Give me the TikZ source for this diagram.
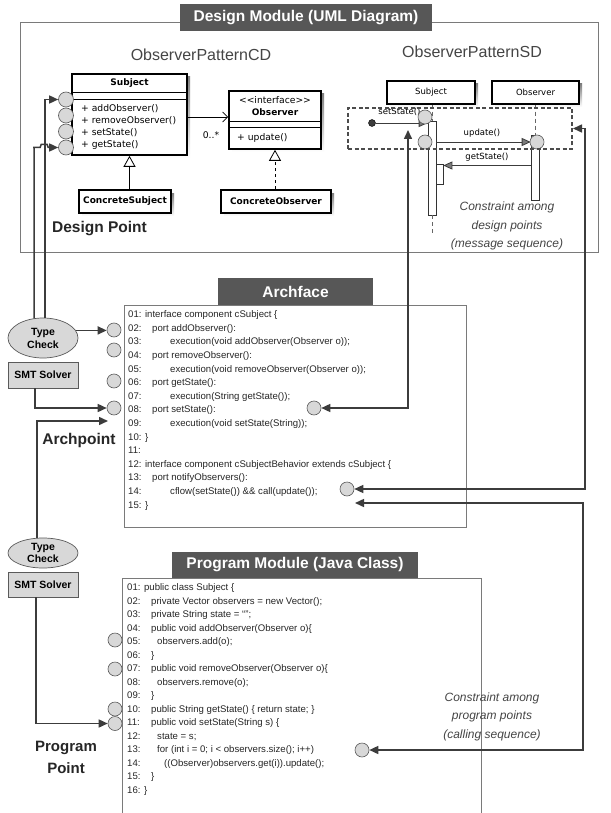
\documentclass[tikz,border=0pt]{standalone}
\usepackage{fontspec}
\setmainfont{Liberation Sans}
\newfontfamily\umlfont{DejaVu Sans}
\usetikzlibrary{arrows.meta,shapes.geometric,calc}

\definecolor{barfill}{HTML}{575757}
\definecolor{wire}{HTML}{3C3C3C}
\definecolor{framegray}{HTML}{7A7A7A}
\definecolor{portfill}{HTML}{D8D8D8}
\definecolor{portedge}{HTML}{5A5A5A}
\definecolor{shade}{HTML}{DDDDDD}
\definecolor{notegray}{HTML}{454545}
\definecolor{msgtip}{HTML}{7C7C7C}
\definecolor{codeink}{HTML}{262626}

\tikzset{
  wtip/.tip={Triangle[length=9pt,width=8pt]},
  mtip/.tip={Triangle[length=9pt,width=8pt,fill=msgtip]},
  titlebar/.style={fill=barfill,text=white,inner sep=0pt,minimum height=27pt,
    font=\bfseries\fontsize{15.5}{17}\selectfont},
  moduleframe/.style={draw=framegray,line width=0.9pt},
  port/.style={circle,draw=portedge,fill=portfill,line width=0.6pt,minimum size=14pt,inner sep=0pt},
  conn/.style={draw=wire,line width=1.5pt},
  code/.style={inner sep=0pt,anchor=mid west,text=codeink,font=\fontsize{9.6}{11}\selectfont},
  diagtitle/.style={inner sep=0pt,text=notegray,font=\fontsize{16}{18}\selectfont},
  umlbox/.style={draw=black,line width=1.6pt,fill=white,inner sep=0pt},
  umltext/.style={inner sep=0pt,font=\umlfont\fontsize{9.2}{10}\selectfont},
  umlbold/.style={inner sep=0pt,font=\umlfont\bfseries\fontsize{9}{10}\selectfont},
  cbox/.style={umlbox,minimum height=23pt,font=\umlfont\bfseries\fontsize{9}{10}\selectfont},
  lifebox/.style={umlbox,line width=1.4pt,minimum height=23pt,font=\umlfont\fontsize{8.5}{10}\selectfont},
  msglabel/.style={inner sep=0pt,font=\umlfont\fontsize{8.5}{10}\selectfont},
  bigbold/.style={inner sep=0pt,text=black!85,align=center,font=\bfseries\fontsize{15.5}{23}\selectfont},
  note/.style={inner sep=0pt,text=notegray,align=center,font=\itshape\fontsize{12}{18.5}\selectfont},
  checker/.style={ellipse,draw=portedge,fill=portfill,line width=0.7pt,inner sep=0pt,
    minimum width=70pt,align=center,font=\bfseries\fontsize{10.5}{13}\selectfont},
  solver/.style={draw=portedge,fill=portfill,line width=0.7pt,inner sep=0pt,
    minimum width=70pt,font=\bfseries\fontsize{10.5}{12}\selectfont},
  msg/.style={draw=wire,line width=0.8pt},
  actbar/.style={draw=black!80,fill=white,line width=0.6pt,inner sep=0pt},
  lifeline/.style={draw=black!60,line width=0.6pt,dash pattern=on 4pt off 3pt},
}

\begin{document}
\begin{tikzpicture}[x=1pt,y=-1pt]
\useasboundingbox (0,0) rectangle (610,813);
\fill[white] (0,0) rectangle (610,813);

% ================= Design module =================
\draw[moduleframe] (20,22) rectangle (598,252);
\node[titlebar,minimum width=252pt] (dmtitle) at (306,17.5) {Design Module (UML Diagram)};

% ---- class diagram ----
\node[diagtitle] (cdtitle) at (201,55) {ObserverPatternCD};

\fill[shade] (75,77) rectangle (190,158);
\node[umlbox,minimum width=115pt,minimum height=81pt] (subj) at (129.5,114.5) {};
\draw[line width=0.7pt] (72,92) -- (187,92) (72,99) -- (187,99);
\node[umlbold] (subjname) at (129.5,83.5) {Subject};
\node[umltext,anchor=mid west] (subjm1) at (81,109) {+ addObserver()};
\node[umltext,anchor=mid west] (subjm2) at (81,121) {+ removeObserver()};
\node[umltext,anchor=mid west] (subjm3) at (81,133) {+ setState()};
\node[umltext,anchor=mid west] (subjm4) at (81,145) {+ getState()};

\fill[shade] (232,94) rectangle (324,152);
\node[umlbox,minimum width=92pt,minimum height=58pt] (iobs) at (275,120) {};
\draw[line width=0.7pt] (229,121) -- (321,121) (229,127) -- (321,127);
\node[umltext] (iobsst) at (275,100) {<{}<interface>{}>};
\node[umlbold] (iobsname) at (275,112) {Observer};
\node[umltext,anchor=mid west] (iobsm1) at (237,137.5) {+ update()};

\fill[shade] (82,193) rectangle (174,216);
\node[cbox,minimum width=92pt] (csub) at (125,201.5) {ConcreteSubject};
\fill[shade] (224,193) rectangle (334,216);
\node[cbox,minimum width=110pt] (cobs) at (276,201.5) {ConcreteObserver};

\draw[line width=0.8pt,-{Triangle[open,length=11pt,width=12pt,fill=white]}]
  (csub.north -| subj.south) -- (subj.south);
\draw[line width=0.8pt,dashed,-{Triangle[open,length=11pt,width=12pt,fill=white]}]
  (cobs.north -| iobs.south) -- (iobs.south);
\coordinate (assocrow) at (0,117);
\draw[line width=0.8pt,-{Straight Barb[length=5pt,width=10pt]}]
  (subj.east |- assocrow) -- (iobs.west |- assocrow);
\node[umltext] (mult) at (211,135) {0..*};

\foreach \i/\y in {1/99.5,2/115.5,3/131.5,4/147.5}
  \node[port,minimum size=15pt] (dp\i) at (66,\y) {};

\node[bigbold] (dpoint) at (99.5,229) {Design Point};

% ---- sequence diagram ----
\node[diagtitle] (sdtitle) at (472,52) {ObserverPatternSD};

\fill[shade] (390,84) rectangle (478,107);
\node[lifebox,minimum width=88pt] (sdsubj) at (431,92.5) {Subject};
\fill[shade] (495,84) rectangle (582,107);
\node[lifebox,minimum width=87pt] (sdobs) at (535.5,92.5) {Observer};

\node[actbar,minimum width=8pt,minimum height=94pt] (actS) at (432,168) {};
\node[actbar,minimum width=7pt,minimum height=20pt] (actN) at (439.5,174) {};
\node[actbar,minimum width=8pt,minimum height=65pt] (actO) at (535,167.5) {};
\draw[lifeline] (sdsubj.south -| actS.north) -- (actS.north);
\draw[lifeline] (actS.south) -- ++(0,18);
\draw[lifeline] (sdobs.south -| actO.north) -- (actO.north);

\node[circle,fill=wire,draw=black,minimum size=7pt,inner sep=0pt] (fdot) at (372,123) {};
\node[msglabel] (setlbl) at (399.5,112) {setState()};
\draw[msg,-mtip] (fdot) -- (fdot -| actS.west);
\coordinate (updrow) at (0,142);
\draw[msg,-mtip] (actS.east |- updrow) -- (actO.west |- updrow);
\node[msglabel] (updlbl) at (482,133) {update()};
\coordinate (getrow) at (0,165.5);
\draw[msg,-mtip] (actO.west |- getrow) -- (actN.east |- getrow);
\node[msglabel] (getlbl) at (487,157) {getState()};

\node[port] (sc1) at (425,117) {};
\node[port] (sc2) at (425,142) {};
\node[port] (oc1) at (537,142) {};

\node[draw=black!70,line width=2pt,dash pattern=on 4pt off 2.5pt,minimum width=224pt,
  minimum height=41pt,inner sep=0pt] (sdbox) at (460,128.5) {};

\node[note] (dnote) at (507,226) {Constraint among\\design points\\(message sequence)};

% ================= Archface =================
\draw[moduleframe] (124,305) rectangle (466,527);
\node[titlebar,minimum width=155pt] (aftitle) at (295.5,291.5) {Archface};

\node[code] (a01) at (128,315) {01: interface component cSubject \{};
\node[code] (a02n) at (128,328.6) {02:};  \node[code] (a02) at (152,328.6) {port addObserver():};
\node[code] (a03n) at (128,342.2) {03:};  \node[code] (a03) at (170,342.2) {execution(void addObserver(Observer o));};
\node[code] (a04n) at (128,355.8) {04:};  \node[code] (a04) at (152,355.8) {port removeObserver():};
\node[code] (a05n) at (128,369.4) {05:};  \node[code] (a05) at (170,369.4) {execution(void removeObserver(Observer o));};
\node[code] (a06n) at (128,383) {06:};    \node[code] (a06) at (152,383) {port getState():};
\node[code] (a07n) at (128,396.6) {07:};  \node[code] (a07) at (170,396.6) {execution(String getState());};
\node[code] (a08n) at (128,410.2) {08:};  \node[code] (a08) at (152,410.2) {port setState():};
\node[code] (a09n) at (128,423.8) {09:};  \node[code] (a09) at (170,423.8) {execution(void setState(String));};
\node[code] (a10) at (128,437.4) {10: \}};
\node[code] (a11) at (128,451) {11:};
\node[code] (a12) at (128,464.6) {12: interface component cSubjectBehavior extends cSubject \{};
\node[code] (a13n) at (128,478.2) {13:};  \node[code] (a13) at (152,478.2) {port notifyObservers():};
\node[code] (a14n) at (128,491.8) {14:};  \node[code] (a14) at (170,491.8) {cflow(setState()) \&\& call(update());};
\node[code] (a15) at (128,505.4) {15: \}};

\foreach \i/\y in {1/330,2/350,3/381,4/408}
  \node[port] (ac\i) at (114,\y) {};
\node[port] (ap1) at (314,408) {};
\node[port] (ap2) at (347,489) {};

% ================= Program module =================
\draw[moduleframe] (122,813) -- (122,578) -- (481,578) -- (481,813);
\node[titlebar,minimum width=246pt,minimum height=26pt] (pmtitle) at (295,565) {Program Module (Java Class)};

\node[code] (p01) at (127,588) {01: public class Subject \{};
\node[code] (p02n) at (127,601.5) {02:}; \node[code] (p02) at (151,601.5) {private Vector observers = new Vector();};
\node[code] (p03n) at (127,615) {03:};   \node[code] (p03) at (151,615) {private String state = \textquotedblleft\textquotedblright;};
\node[code] (p04n) at (127,628.5) {04:}; \node[code] (p04) at (151,628.5) {public void addObserver(Observer o)\{};
\node[code] (p05n) at (127,642) {05:};   \node[code] (p05) at (157,642) {observers.add(o);};
\node[code] (p06n) at (127,655.5) {06:}; \node[code] (p06) at (151,655.5) {\}};
\node[code] (p07n) at (127,669) {07:};   \node[code] (p07) at (151,669) {public void removeObserver(Observer o)\{};
\node[code] (p08n) at (127,682.5) {08:}; \node[code] (p08) at (157,682.5) {observers.remove(o);};
\node[code] (p09n) at (127,696) {09:};   \node[code] (p09) at (151,696) {\}};
\node[code] (p10n) at (127,709.5) {10:}; \node[code] (p10) at (151,709.5) {public String getState() \{ return state; \}};
\node[code] (p11n) at (127,723) {11:};   \node[code] (p11) at (151,723) {public void setState(String s) \{};
\node[code] (p12n) at (127,736.5) {12:}; \node[code] (p12) at (157,736.5) {state = s;};
\node[code] (p13n) at (127,750) {13:};   \node[code] (p13) at (157,750) {for (int i = 0; i < observers.size(); i++)};
\node[code] (p14n) at (127,763.5) {14:}; \node[code] (p14) at (164,763.5) {((Observer)observers.get(i)).update();};
\node[code] (p15n) at (127,777) {15:};   \node[code] (p15) at (151,777) {\}};
\node[code] (p16) at (127,790.5) {16: \}};

\foreach \i/\y in {1/640,2/669,3/709,4/723.5}
  \node[port] (pc\i) at (115,\y) {};
\node[port] (pc5) at (362,750) {};

\node[note] (pnote) at (492,716.5) {Constraint among\\program points\\(calling sequence)};

% ================= checking tools =================
\node[checker,minimum height=40pt] (tc1) at (43,338) {Type\\Check};
\node[solver,minimum height=26pt] (smt1) at (43,375) {SMT Solver};
\node[checker,minimum height=30pt,font=\bfseries\fontsize{10.5}{12}\selectfont] (tc2) at (43,553) {Type\\Check};
\node[solver,minimum height=25pt] (smt2) at (43,584.5) {SMT Solver};

\node[bigbold] (apoint) at (79,440) {Archpoint};
\node[bigbold,font=\bfseries\fontsize{15}{22}\selectfont] (ppoint) at (66,757.5) {Program\\Point};

% ================= connectors =================
\draw[conn,-wtip] ($(tc1.north)+(2,0)$) |- (dp1.west);
\draw[conn,-wtip] ($(tc1.north)+(-8.8,0.7)$) |- ($(dp4.west)+(-25,0)$)
  -- ++(7,0) -- ++(1,-3) -- ++(6,0) -- ++(1,3) -- (dp4.west);
\draw[conn,-wtip] (tc1.13) -- (tc1.13 -| ac1.west);
\draw[conn,-wtip] ($(smt1.south)+(-8,0)$) |- (ac4.west);
\coordinate (archtip) at (108,421);
\draw[conn,-wtip] ($(tc2.north)+(-6,0.3)$) |- (archtip);
\draw[conn,-wtip] ($(smt2.south)+(-7,0)$) |- (pc4.west);

\draw[conn,wtip-wtip] (sdbox.east) -- ++(12,0) |- (ap2.east);
\coordinate (sdup) at (408,130);
\draw[conn,wtip-wtip] (sdup) |- (ap1.east);
\coordinate (ap3tip) at (355,503);
\draw[conn,wtip-wtip] (ap3tip) -- ++(228,0) |- (pc5.east);
\end{tikzpicture}
\end{document}
